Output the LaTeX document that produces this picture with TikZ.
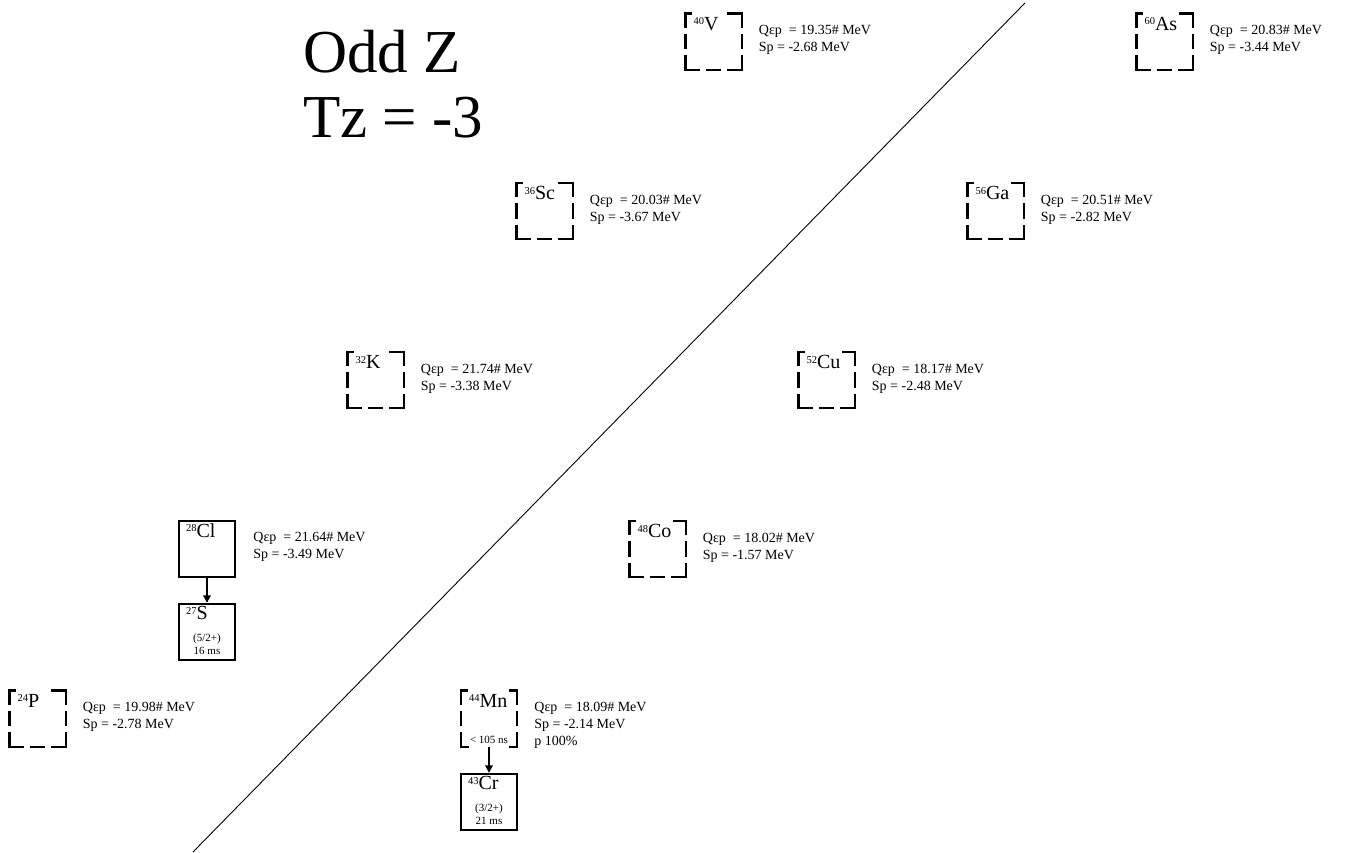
\documentclass[tikz,border=0pt]{standalone}
\usepackage{fontspec}
\setmainfont{Liberation Serif}
\usetikzlibrary{arrows.meta}

\newcommand{\iso}[2]{\raisebox{5.5pt}{\fontsize{10.5}{10.5}\selectfont #1}{\fontsize{20}{20}\selectfont #2}}
% symbol padded to a least width, so that its white ground hides the middle dash
\newsavebox{\symbox}
\newcommand{\isow}[2]{\sbox{\symbox}{\iso{#1}{#2}}%
  \ifdim\wd\symbox<30pt \makebox[30pt][l]{\usebox{\symbox}}\else\usebox{\symbox}\fi}

\begin{document}
\begin{tikzpicture}[
  x=1pt, y=-1pt,
  box/.style  ={rectangle, draw, line width=2.4pt, minimum size=56pt, inner sep=0pt},
  ghost/.style={rectangle, minimum size=56pt, inner sep=0pt},
  side/.style ={line width=2.4pt, line cap=rect, dash pattern=on 13pt off 8.5pt},
  sym/.style  ={anchor=north west, inner sep=0pt, xshift=8pt, yshift=-3.5pt},
  cover/.style={fill=white, inner xsep=1.5pt, inner ysep=5.5pt, xshift=-1.5pt, yshift=5.5pt},
  info/.style ={anchor=north west, inner sep=0pt, align=left, xshift=17pt, yshift=-12pt,
                font=\fontsize{14}{17}\selectfont},
  note/.style ={inner sep=0pt, align=center, font=\fontsize{11}{12.5}\selectfont},
  decay/.style={-{Triangle[length=7.5pt,width=7.5pt]}, line width=1.8pt},
]
\useasboundingbox (0,0) rectangle (1347,852);

% ---------------- title ----------------
\node[anchor=north west, inner sep=0pt, align=left, font=\fontsize{61}{65}\selectfont]
  (title) at (303,30) {Odd Z\\Tz = -3};

% ---------------- known nuclei (solid) ----------------
\node[box] (Cl) at (207,549) {};
\node[box] (S)  at (207,632) {};
\node[box] (Cr) at (489,802) {};

% ---------------- unknown nuclei (dashed) ----------------
\node[ghost] (P)  at (37.5,718.5) {};
\node[ghost] (K)  at (375.5,380)  {};
\node[ghost] (Sc) at (544.5,211)  {};
\node[ghost] (V)  at (713.5,41.5) {};
\node[ghost] (Mn) at (489,718.5)  {};
\node[ghost] (Co) at (657.5,549)  {};
\node[ghost] (Cu) at (826.5,380)  {};
\node[ghost] (Ga) at (995.5,211)  {};
\node[ghost] (As) at (1164.5,41.5) {};

\foreach \n in {P,K,Sc,V,Mn,Co,Cu,Ga,As}{
  \draw[side] (\n.north west) -- (\n.north east);
  \draw[side] (\n.north east) -- (\n.south east);
  \draw[side] (\n.south west) -- (\n.south east);
  \draw[side] (\n.north west) -- (\n.south west);
}

% ---------------- symbols ----------------
\node[sym]        (Cl-s) at (Cl.north west) {\iso{28}{Cl}};
\node[sym]        (S-s)  at (S.north west)  {\iso{27}{S}};
\node[sym]        (Cr-s) at (Cr.north west) {\iso{43}{Cr}};
\node[sym, cover] (P-s)  at (P.north west)  {\isow{24}{P}};
\node[sym, cover] (K-s)  at (K.north west)  {\isow{32}{K}};
\node[sym, cover] (Sc-s) at (Sc.north west) {\isow{36}{Sc}};
\node[sym, cover] (V-s)  at (V.north west)  {\isow{40}{V}};
\node[sym, cover] (Mn-s) at (Mn.north west) {\isow{44}{Mn}};
\node[sym, cover] (Co-s) at (Co.north west) {\isow{48}{Co}};
\node[sym, cover] (Cu-s) at (Cu.north west) {\isow{52}{Cu}};
\node[sym, cover] (Ga-s) at (Ga.north west) {\isow{56}{Ga}};
\node[sym, cover] (As-s) at (As.north west) {\isow{60}{As}};

% spin / half-life inside boxes
\node[note] (S-n)  at ([yshift=-12pt]S.center)  {(5/2+)\\16 ms};
\node[note] (Cr-n) at ([yshift=-12pt]Cr.center) {(3/2+)\\21 ms};
\node[note, fill=white, inner xsep=1.5pt, inner ysep=5pt] (Mn-n) at ([yshift=-21pt]Mn.center) {< 105 ns};

% ---------------- Q values ----------------
\node[info] (P-q)  at (P.north east)  {Qεp\ \ = 19.98\# MeV\\Sp = -2.78 MeV};
\node[info] (Cl-q) at (Cl.north east) {Qεp\ \ = 21.64\# MeV\\Sp = -3.49 MeV};
\node[info] (K-q)  at (K.north east)  {Qεp\ \ = 21.74\# MeV\\Sp = -3.38 MeV};
\node[info] (Sc-q) at (Sc.north east) {Qεp\ \ = 20.03\# MeV\\Sp = -3.67 MeV};
\node[info] (V-q)  at (V.north east)  {Qεp\ \ = 19.35\# MeV\\Sp = -2.68 MeV};
\node[info] (Mn-q) at (Mn.north east) {Qεp\ \ = 18.09\# MeV\\Sp = -2.14 MeV\\p 100\%};
\node[info] (Co-q) at (Co.north east) {Qεp\ \ = 18.02\# MeV\\Sp = -1.57 MeV};
\node[info] (Cu-q) at (Cu.north east) {Qεp\ \ = 18.17\# MeV\\Sp = -2.48 MeV};
\node[info] (Ga-q) at (Ga.north east) {Qεp\ \ = 20.51\# MeV\\Sp = -2.82 MeV};
\node[info] (As-q) at (As.north east) {Qεp\ \ = 20.83\# MeV\\Sp = -3.44 MeV};

% ---------------- decays ----------------
\draw[decay] (Cl) -- (S);
\draw[decay] (Mn) -- (Cr);

% ---------------- proton drip line ----------------
\coordinate (d0) at (193,852);
\coordinate (d1) at (1025,3);
\draw[line width=0.9pt] (d0) -- (d1);
\end{tikzpicture}
\end{document}
